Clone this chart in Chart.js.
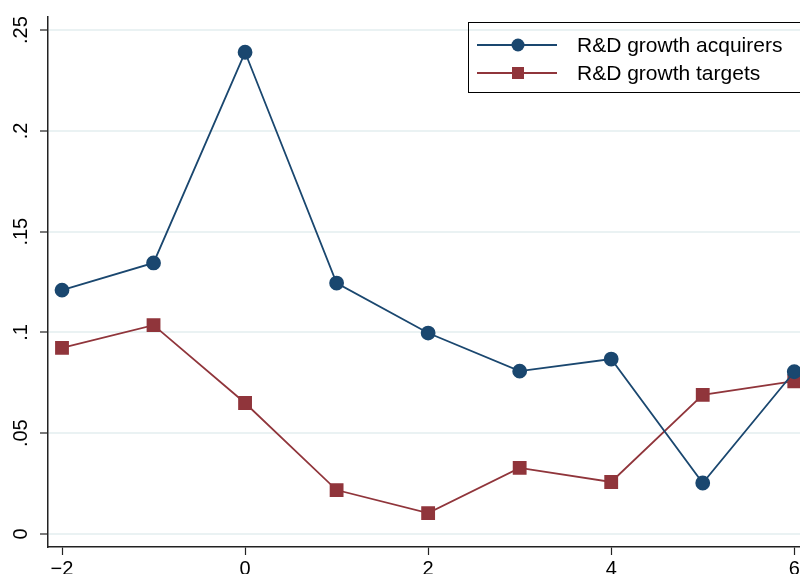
<!DOCTYPE html>
<html>
<head>
<meta charset="utf-8">
<script src="https://cdn.jsdelivr.net/npm/chart.js@4"></script>
<style>
  body { margin: 0; background: #fff; overflow: hidden; }
  #wrap { width: 830px; height: 574px; }
</style>
</head>
<body>
<div id="wrap"><canvas id="rd"></canvas></div>
<script>
// R&D growth around the deal year

var years = [-2, -1, 0, 1, 2, 3, 4, 5, 6];
var acquirers = [0.121, 0.1345, 0.239, 0.1245, 0.0997, 0.0808, 0.0868, 0.0253, 0.0805];
var targets = [0.0923, 0.1036, 0.065, 0.0218, 0.0104, 0.0328, 0.0258, 0.069, 0.0758];
var xTicks = [-2, 0, 2, 4, 6];
var yTicks = [0, 0.05, 0.1, 0.15, 0.2, 0.25];
var yLabels = ['0', '.05', '.1', '.15', '.2', '.25'];
var seriesNames = ['R&D growth acquirers', 'R&D growth targets'];

var blue = '#1a476f';
var red = '#90353b';
var font = '"Liberation Sans", Arial, sans-serif';

function pts(ys) {
  return years.map(function (x, i) { return { x: x, y: ys[i] }; });
}

// y labels are vertical in the original, chart.js won't rotate y ticks
var yLabelPlugin = {
  id: 'yLabels',
  afterDraw: function (chart) {
    var c = chart.ctx;
    var y = chart.scales.y;
    c.save();
    c.fillStyle = '#000';
    c.font = '20px ' + font;
    c.textAlign = 'center';
    c.textBaseline = 'middle';
    yTicks.forEach(function (v, i) {
      c.save();
      c.translate(21, y.getPixelForValue(v));
      c.rotate(-Math.PI / 2);
      c.fillText(yLabels[i], 0, 0);
      c.restore();
    });
    c.restore();
  }
};

// boxed legend with line + marker, like the stata one
var legendPlugin = {
  id: 'boxLegend',
  afterDraw: function (chart) {
    var c = chart.ctx;
    c.save();
    c.strokeStyle = '#000';
    c.lineWidth = 1;
    c.strokeRect(468.5, 22.5, 350, 70);
    var rows = [45, 73];
    var cols = [blue, red];
    rows.forEach(function (ry, i) {
      c.strokeStyle = cols[i];
      c.fillStyle = cols[i];
      c.lineWidth = 1.8;
      c.beginPath();
      c.moveTo(477, ry);
      c.lineTo(557, ry);
      c.stroke();
      if (i === 0) {
        c.beginPath();
        c.arc(518, ry, 6.5, 0, Math.PI * 2);
        c.fill();
      } else {
        c.fillRect(512, ry - 6, 12, 12);
      }
      c.fillStyle = '#000';
      c.font = '21px ' + font;
      c.textBaseline = 'middle';
      c.fillText(seriesNames[i], 577, ry + 1);
    });
    c.restore();
  }
};

var ctx = document.getElementById('rd').getContext('2d');
var chart = new Chart(ctx, {
  type: 'line',
  data: {
    datasets: [{
      label: seriesNames[0],
      data: pts(acquirers),
      borderColor: blue,
      backgroundColor: blue,
      borderWidth: 1.8,
      pointStyle: 'circle',
      pointRadius: 6.5,
      pointHoverRadius: 6.5,
      clip: false
    }, {
      label: seriesNames[1],
      data: pts(targets),
      borderColor: red,
      backgroundColor: red,
      borderWidth: 1.8,
      pointStyle: 'rect',
      pointRadius: 8.5,
      pointHoverRadius: 8.5,
      clip: false
    }]
  },
  options: {
    responsive: true,
    maintainAspectRatio: false,
    animation: false,
    layout: { padding: { top: 17, right: 22, left: 0, bottom: 0 } },
    plugins: {
      legend: { display: false },
      tooltip: { enabled: false }
    },
    scales: {
      x: {
        type: 'linear',
        min: -2.153,
        max: 6.15,
        afterBuildTicks: function (s) { s.ticks = xTicks.map(function (v) { return { value: v }; }); },
        afterFit: function (s) { s.height = 27; },
        ticks: {
          color: '#000',
          padding: 2,
          font: { family: font, size: 20 },
          maxRotation: 0,
          callback: function (v) { return v < 0 ? '\u2212' + Math.abs(v) : String(v); }
        },
        grid: { drawOnChartArea: false, drawTicks: true, tickLength: 8, tickColor: '#222', tickWidth: 1.2 },
        border: { color: '#222', width: 1.5 }
      },
      y: {
        min: -0.00645,
        max: 0.2565,
        afterBuildTicks: function (s) { s.ticks = yTicks.map(function (v) { return { value: v }; }); },
        afterFit: function (s) { s.width = 48; },
        ticks: { display: false },
        grid: { color: '#eaf2f3', lineWidth: 2, drawTicks: true, tickLength: 8, tickColor: '#222', tickWidth: 1.2 },
        border: { color: '#222', width: 1.5 }
      }
    }
  },
  plugins: [yLabelPlugin, legendPlugin]
});
</script>
</body>
</html>
